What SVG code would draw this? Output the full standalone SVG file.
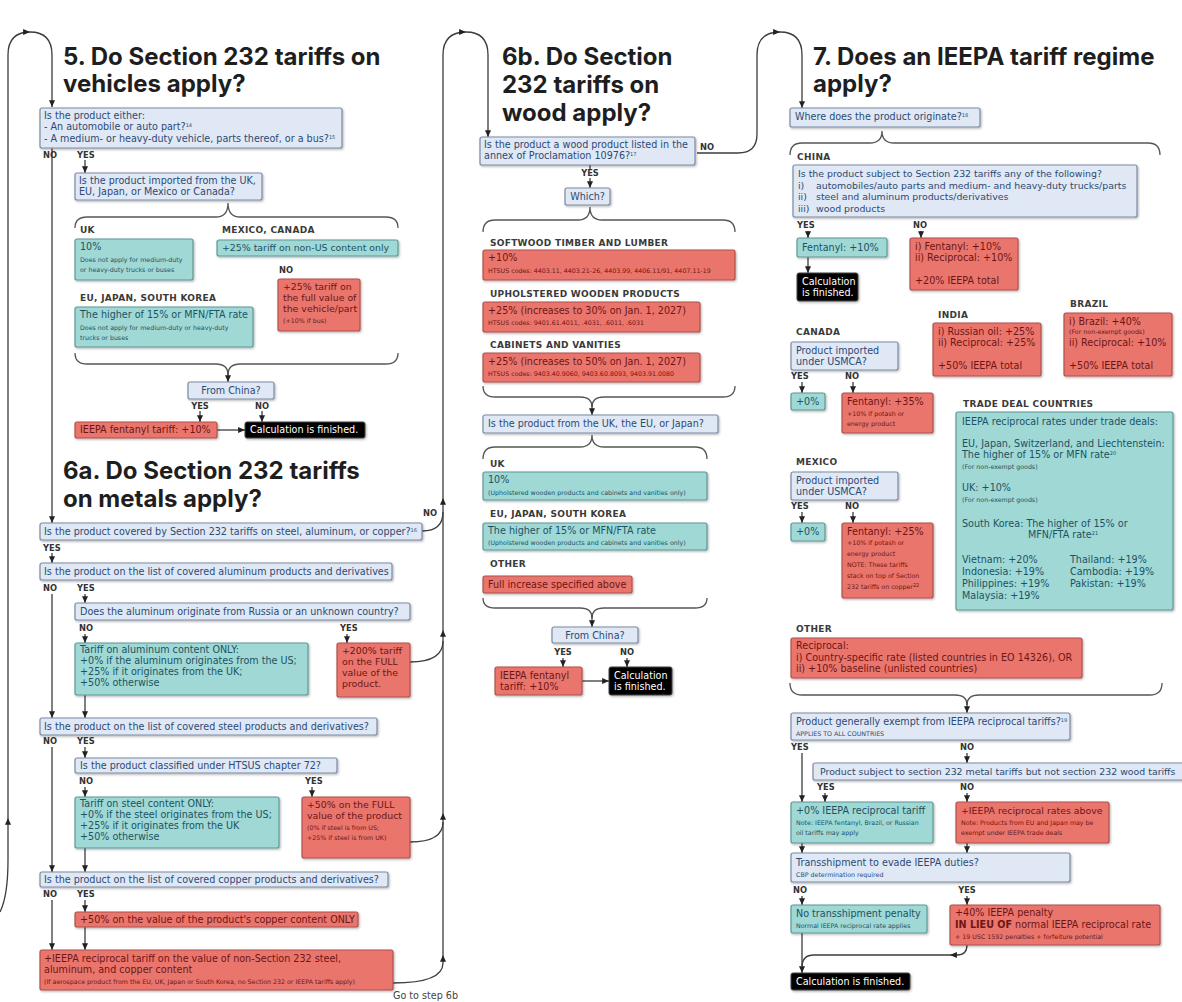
<svg xmlns="http://www.w3.org/2000/svg" width="1182" height="1002" viewBox="0 0 1182 1002">
<defs>
<style>
text{font-family:"DejaVu Sans",Verdana,sans-serif;font-size:9.6px}
.f94{font-size:9.4px}
.ti{font-family:Inter,"Liberation Sans",sans-serif;font-weight:700;font-size:24px;fill:#1e1e1e}
.bq{fill:#dfe8f4;stroke:#7b8ba3;stroke-width:1.2;filter:url(#sh)}
.bg{fill:#a0d8d6;stroke:#5d9896;stroke-width:1.2;filter:url(#sh)}
.br{fill:#e9756c;stroke:#b0514a;stroke-width:1.2;filter:url(#sh)}
.bk{fill:#050505;stroke:#444;stroke-width:1;filter:url(#sh)}
.tq{fill:#2d4a74}
.tg{fill:#1b5362}
.tr{fill:#6d1515}
.tk{fill:#ffffff}
.s{font-size:6.3px}
.sup{font-size:5px}
.yn{font-weight:bold;font-size:8.3px;fill:#333}
.cat{font-weight:bold;font-size:9px;letter-spacing:0.3px;fill:#3a3a3a}
.c{fill:none;stroke:#3c3c3c;stroke-width:1.3}
.a{marker-end:url(#ah)}
.brc{fill:none;stroke:#555;stroke-width:1.3}
.mid{text-anchor:middle}
</style>
<marker id="ah" viewBox="0 0 8 7" refX="8" refY="3.5" markerWidth="7" markerHeight="6" markerUnits="userSpaceOnUse" orient="auto"><path d="M0 0L8 3.5L0 7z" fill="#222"/></marker>
<filter id="sh" x="-10%" y="-20%" width="125%" height="160%"><feDropShadow dx="1" dy="1.2" stdDeviation="1" flood-color="#000" flood-opacity="0.3"/></filter>
</defs>
<rect x="0" y="0" width="1182" height="1002" fill="#ffffff"/>

<g id="titles">
<text class="ti" x="63" y="65">5. Do Section 232 tariffs on</text>
<text class="ti" x="63" y="92">vehicles apply?</text>
<text class="ti" x="63" y="479">6a. Do Section 232 tariffs</text>
<text class="ti" x="63" y="507">on metals apply?</text>
<text class="ti" x="502" y="65">6b. Do Section</text>
<text class="ti" x="502" y="93">232 tariffs on</text>
<text class="ti" x="502" y="121">wood apply?</text>
<text class="ti" x="813" y="65">7. Does an IEEPA tariff regime</text>
<text class="ti" x="813" y="92">apply?</text>
</g>

<g id="connectors">
<path class="c a" d="M0 912C6 900 8 885 8 860L8 818"/>
<path class="c a" d="M8 818L8 55Q8 32 30 32"/>
<path class="c a" d="M30 32Q52 32 52 55L52 107"/>
<path class="c a" d="M52 148L52 523"/>
<path class="c a" d="M85 160L85 173"/>
<path class="brc" d="M75 228Q75 217 87 217L216 217Q228 217 228 203Q228 217 240 217L386 217Q398 217 398 228"/>
<path class="brc" d="M75 353Q75 364 87 364L216 364Q228 364 228 375Q228 364 240 364L386 364Q398 364 398 353"/>
<path class="c a" d="M228 372L228 382"/>
<path class="c a" d="M200 411L200 422"/>
<path class="c a" d="M262 411L262 422"/>
<path class="c a" d="M217 430L245 430"/>
<path class="c a" d="M52 553L52 563"/>
<path class="c" d="M422 531Q443 531 443 512"/>
<path class="c a" d="M52 594L52 718"/>
<path class="c a" d="M85 594L85 603"/>
<path class="c a" d="M85 634L85 643"/>
<path class="c a" d="M347 634L347 643"/>
<path class="c" d="M410 662Q443 662 443 641"/>
<path class="c a" d="M85 695L85 718"/>
<path class="c a" d="M52 747L52 872"/>
<path class="c a" d="M85 747L85 758"/>
<path class="c a" d="M85 787L85 797"/>
<path class="c a" d="M312 787L312 797"/>
<path class="c" d="M410 842Q443 842 443 822"/>
<path class="c a" d="M85 848L85 872"/>
<path class="c a" d="M52 900L52 950"/>
<path class="c a" d="M85 900L85 912"/>
<path class="c a" d="M85 927L85 950"/>
<path class="c a" d="M393 983Q443 983 443 963L443 955"/>
<path class="c a" d="M443 955L443 813"/>
<path class="c a" d="M443 813L443 630"/>
<path class="c a" d="M443 630L443 498"/>
<path class="c a" d="M443 498L443 55Q443 32 466 32"/>
<path class="c a" d="M466 32Q488 32 488 55L488 137"/>
<path class="c" d="M590 165L590 169"/>
<path class="c a" d="M590 178L590 188"/>
<path class="brc" d="M483 232Q483 220 495 220L578 220Q590 220 590 207Q590 220 602 220L723 220Q735 220 735 232"/>
<path class="brc" d="M483 386Q483 397 495 397L580 397Q592 397 592 407Q592 397 604 397L723 397Q735 397 735 386"/>
<path class="c a" d="M592 404L592 415"/>
<path class="brc" d="M483 459Q483 447 495 447L580 447Q592 447 592 435Q592 447 604 447L695 447Q707 447 707 459"/>
<path class="brc" d="M483 598Q483 608 495 608L580 608Q592 608 592 618Q592 608 604 608L695 608Q707 608 707 598"/>
<path class="c a" d="M592 615L592 627"/>
<path class="c a" d="M563 658L563 667"/>
<path class="c a" d="M627 658L627 667"/>
<path class="c a" d="M582 681L609 681"/>
<path class="c a" d="M697 153L738 153Q757 153 757 134L757 55Q757 32 780 32"/>
<path class="c a" d="M780 32Q802 32 802 55L802 108"/>
<path class="brc" d="M790 155Q790 143 802 143L870 143Q882 143 882 131Q882 143 894 143L1148 143Q1160 143 1160 155"/>
<path class="c a" d="M808 231L808 238"/>
<path class="c a" d="M921 231L921 238"/>
<path class="c a" d="M808 257L808 273"/>
<path class="c a" d="M802 382L802 393"/>
<path class="c a" d="M853 382L853 393"/>
<path class="c a" d="M802 512L802 523"/>
<path class="c a" d="M853 512L853 523"/>
<path class="brc" d="M790 683Q790 695 802 695L955 695Q967 695 967 705Q967 695 979 695L1150 695Q1162 695 1162 683"/>
<path class="c a" d="M967 702L967 713"/>
<path class="c a" d="M802 753L802 802"/>
<path class="c a" d="M967 753L967 763"/>
<path class="c a" d="M825 793L825 802"/>
<path class="c a" d="M967 793L967 802"/>
<path class="c a" d="M802 843L802 853"/>
<path class="c a" d="M967 843L967 853"/>
<path class="c a" d="M802 896L802 905"/>
<path class="c a" d="M967 896L967 905"/>
<path class="c a" d="M802 933L802 973"/>
<path class="c a" d="M967 945Q967 955 957 955L950 955"/>
<path class="c" d="M950 955L814 955Q802 955 802 967"/>
</g>

<g id="labels">
<text class="yn" x="43" y="158">NO</text>
<text class="yn" x="77" y="158">YES</text>
<text class="cat" x="80" y="233">UK</text>
<text class="cat" x="222" y="233">MEXICO, CANADA</text>
<text class="yn" x="279" y="273">NO</text>
<text class="cat" x="80" y="301">EU, JAPAN, SOUTH KOREA</text>
<text class="yn mid" x="200" y="409">YES</text>
<text class="yn mid" x="262" y="409">NO</text>
<text class="yn" x="423" y="516">NO</text>
<text class="yn" x="43" y="551">YES</text>
<text class="yn" x="43" y="591">NO</text>
<text class="yn" x="77" y="591">YES</text>
<text class="yn" x="79" y="631">NO</text>
<text class="yn" x="340" y="631">YES</text>
<text class="yn" x="43" y="744">NO</text>
<text class="yn" x="77" y="744">YES</text>
<text class="yn" x="79" y="784">NO</text>
<text class="yn" x="305" y="784">YES</text>
<text class="yn" x="43" y="897">NO</text>
<text class="yn" x="77" y="897">YES</text>
<text x="393" y="999" font-size="5px" fill="#444">Go to step 6b</text>
<text class="yn" x="700" y="150">NO</text>
<text class="yn mid" x="590" y="176">YES</text>
<text class="cat" x="490" y="246">SOFTWOOD TIMBER AND LUMBER</text>
<text class="cat" x="490" y="297">UPHOLSTERED WOODEN PRODUCTS</text>
<text class="cat" x="490" y="348">CABINETS AND VANITIES</text>
<text class="cat" x="490" y="467">UK</text>
<text class="cat" x="490" y="517">EU, JAPAN, SOUTH KOREA</text>
<text class="cat" x="490" y="567">OTHER</text>
<text class="yn mid" x="563" y="655">YES</text>
<text class="yn mid" x="627" y="655">NO</text>
<text class="cat" x="797" y="160">CHINA</text>
<text class="yn" x="797" y="228">YES</text>
<text class="yn" x="913" y="228">NO</text>
<text class="cat" x="938" y="318">INDIA</text>
<text class="cat" x="1070" y="307">BRAZIL</text>
<text class="cat" x="796" y="335">CANADA</text>
<text class="yn" x="791" y="379">YES</text>
<text class="yn" x="845" y="379">NO</text>
<text class="cat" x="963" y="407">TRADE DEAL COUNTRIES</text>
<text class="cat" x="796" y="465">MEXICO</text>
<text class="yn" x="791" y="509">YES</text>
<text class="yn" x="845" y="509">NO</text>
<text class="cat" x="796" y="632">OTHER</text>
<text class="yn" x="791" y="750">YES</text>
<text class="yn mid" x="967" y="750">NO</text>
<text class="yn" x="817" y="790">YES</text>
<text class="yn mid" x="967" y="790">NO</text>
<text class="yn" x="793" y="893">NO</text>
<text class="yn mid" x="967" y="893">YES</text>
</g>

<g id="n5-q1"><rect class="bq" x="40" y="108" width="302" height="40" rx="2"/>
<text class="tq" x="44" y="119">Is the product either:</text>
<text class="tq" x="44" y="130">- An automobile or auto part?<tspan class="sup" dy="-3.5">14</tspan></text>
<text class="tq" x="44" y="142">- A medium- or heavy-duty vehicle, parts thereof, or a bus?<tspan class="sup" dy="-3.5">15</tspan></text></g>
<g id="n5-q2"><rect class="bq" x="75" y="173" width="187" height="27" rx="2"/>
<text class="tq" x="79" y="184">Is the product imported from the UK,</text>
<text class="tq" x="79" y="195">EU, Japan, or Mexico or Canada?</text></g>
<g id="n5-uk"><rect class="bg" x="75" y="239" width="118" height="41" rx="2"/>
<text class="tg" x="80" y="250">10%</text>
<text class="tg s" x="80" y="262">Does not apply for medium-duty</text>
<text class="tg s" x="80" y="272">or heavy-duty trucks or buses</text></g>
<g id="n5-mx"><rect class="bg" x="217" y="240" width="181" height="16" rx="2"/>
<text class="tg f94" x="222" y="251">+25% tariff on non-US content only</text></g>
<g id="n5-no"><rect class="br" x="278" y="279" width="82" height="52" rx="2"/>
<text class="tr f94" x="283" y="290">+25% tariff on</text>
<text class="tr f94" x="283" y="301">the full value of</text>
<text class="tr f94" x="283" y="312">the vehicle/part</text>
<text class="tr s" x="283" y="323">(+10% if bus)</text></g>
<g id="n5-eu"><rect class="bg" x="75" y="307" width="178" height="40" rx="2"/>
<text class="tg" x="80" y="318">The higher of 15% or MFN/FTA rate</text>
<text class="tg s" x="80" y="330">Does not apply for medium-duty or heavy-duty</text>
<text class="tg s" x="80" y="340">trucks or buses</text></g>
<g id="n5-china"><rect class="bq" x="188" y="382" width="86" height="17" rx="2"/>
<text class="tq mid" x="231" y="394">From China?</text></g>
<g id="n5-fent"><rect class="br" x="75" y="422" width="142" height="16" rx="2"/>
<text class="tr" x="80" y="433">IEEPA fentanyl tariff: +10%</text></g>
<g id="n5-done"><rect class="bk" x="245" y="422" width="120" height="16" rx="2"/>
<text class="tk" x="250" y="433">Calculation is finished.</text></g>

<g id="n6a-cover"><rect class="bq" x="40" y="523" width="382" height="17" rx="2"/>
<text class="tq" x="44" y="535">Is the product covered by Section 232 tariffs on steel, aluminum, or copper?<tspan class="sup" dy="-3.5">16</tspan></text></g>
<g id="n6a-al"><rect class="bq" x="40" y="563" width="352" height="17" rx="2"/>
<text class="tq" x="44" y="575">Is the product on the list of covered aluminum products and derivatives</text></g>
<g id="n6a-ru"><rect class="bq" x="75" y="603" width="335" height="17" rx="2"/>
<text class="tq" x="80" y="615">Does the aluminum originate from Russia or an unknown country?</text></g>
<g id="n6a-alc"><rect class="bg" x="75" y="643" width="233" height="52" rx="2"/>
<text class="tg" x="80" y="653">Tariff on aluminum content ONLY:</text>
<text class="tg" x="80" y="664">+0% if the aluminum originates from the US;</text>
<text class="tg" x="80" y="675">+25% if it originates from the UK;</text>
<text class="tg" x="80" y="686">+50% otherwise</text></g>
<g id="n6a-al200"><rect class="br" x="337" y="643" width="73" height="54" rx="2"/>
<text class="tr f94" x="342" y="654">+200% tariff</text>
<text class="tr f94" x="342" y="665">on the FULL</text>
<text class="tr f94" x="342" y="676">value of the</text>
<text class="tr f94" x="342" y="687">product.</text></g>
<g id="n6a-st"><rect class="bq" x="40" y="718" width="337" height="17" rx="2"/>
<text class="tq" x="44" y="730">Is the product on the list of covered steel products and derivatives?</text></g>
<g id="n6a-72"><rect class="bq" x="75" y="758" width="262" height="15" rx="2"/>
<text class="tq" x="80" y="769">Is the product classified under HTSUS chapter 72?</text></g>
<g id="n6a-stc"><rect class="bg" x="75" y="797" width="204" height="51" rx="2"/>
<text class="tg" x="80" y="807">Tariff on steel content ONLY:</text>
<text class="tg" x="80" y="818">+0% if the steel originates from the US;</text>
<text class="tg" x="80" y="829">+25% if it originates from the UK</text>
<text class="tg" x="80" y="840">+50% otherwise</text></g>
<g id="n6a-st50"><rect class="br" x="302" y="797" width="108" height="61" rx="2"/>
<text class="tr f94" x="307" y="808">+50% on the FULL</text>
<text class="tr f94" x="307" y="819">value of the product</text>
<text class="tr s" x="307" y="830">(0% if steel is from US;</text>
<text class="tr s" x="307" y="840">+25% if steel is from UK)</text></g>
<g id="n6a-cu"><rect class="bq" x="40" y="872" width="348" height="15" rx="2"/>
<text class="tq" x="44" y="883">Is the product on the list of covered copper products and derivatives?</text></g>
<g id="n6a-cu50"><rect class="br" x="75" y="912" width="283" height="15" rx="2"/>
<text class="tr" x="80" y="923">+50% on the value of the product's copper content ONLY</text></g>
<g id="n6a-final"><rect class="br" x="40" y="950" width="353" height="40" rx="2"/>
<text class="tr" x="44" y="962">+IEEPA reciprocal tariff on the value of non-Section 232 steel,</text>
<text class="tr" x="44" y="973">aluminum, and copper content</text>
<text class="tr s" x="44" y="984">(If aerospace product from the EU, UK, Japan or South Korea, no Section 232 or IEEPA tariffs apply)</text></g>

<g id="n6b-q"><rect class="bq" x="480" y="137" width="215" height="28" rx="2"/>
<text class="tq" x="484" y="148">Is the product a wood product listed in the</text>
<text class="tq" x="484" y="159">annex of Proclamation 10976?<tspan class="sup" dy="-3.5">17</tspan></text></g>
<g id="n6b-which"><rect class="bq" x="565" y="188" width="45" height="17" rx="2"/>
<text class="tq mid" x="587.5" y="200">Which?</text></g>
<g id="n6b-soft"><rect class="br" x="483" y="250" width="252" height="30" rx="2"/>
<text class="tr" x="488" y="261">+10%</text>
<text class="tr s" x="488" y="273">HTSUS codes: 4403.11, 4403.21-26, 4403.99, 4406.11/91, 4407.11-19</text></g>
<g id="n6b-uph"><rect class="br" x="483" y="302" width="217" height="30" rx="2"/>
<text class="tr" x="488" y="314">+25% (increases to 30% on Jan. 1, 2027)</text>
<text class="tr s" x="488" y="325">HTSUS codes: 9401.61.4011, .4031, .6011, .6031</text></g>
<g id="n6b-cab"><rect class="br" x="483" y="353" width="217" height="29" rx="2"/>
<text class="tr" x="488" y="365">+25% (increases to 50% on Jan. 1, 2027)</text>
<text class="tr s" x="488" y="376">HTSUS codes: 9403.40.9060, 9403.60.8093, 9403.91.0080</text></g>
<g id="n6b-ukq"><rect class="bq" x="483" y="415" width="235" height="18" rx="2"/>
<text class="tq" x="488" y="427">Is the product from the UK, the EU, or Japan?</text></g>
<g id="n6b-uk"><rect class="bg" x="483" y="472" width="224" height="28" rx="2"/>
<text class="tg" x="488" y="483">10%</text>
<text class="tg s" x="488" y="495">(Upholstered wooden products and cabinets and vanities only)</text></g>
<g id="n6b-eu"><rect class="bg" x="483" y="523" width="224" height="27" rx="2"/>
<text class="tg" x="488" y="534">The higher of 15% or MFN/FTA rate</text>
<text class="tg s" x="488" y="545">(Upholstered wooden products and cabinets and vanities only)</text></g>
<g id="n6b-oth"><rect class="br" x="483" y="576" width="149" height="17" rx="2"/>
<text class="tr" x="488" y="588">Full increase specified above</text></g>
<g id="n6b-china"><rect class="bq" x="552" y="627" width="86" height="16" rx="2"/>
<text class="tq mid" x="595" y="638.5">From China?</text></g>
<g id="n6b-fent"><rect class="br" x="495" y="667" width="87" height="28" rx="2"/>
<text class="tr" x="500" y="679">IEEPA fentanyl</text>
<text class="tr" x="500" y="690">tariff: +10%</text></g>
<g id="n6b-done"><rect class="bk" x="609" y="667" width="63" height="28" rx="2"/>
<text class="tk" x="614" y="679">Calculation</text>
<text class="tk" x="614" y="690">is finished.</text></g>

<g id="n7-orig"><rect class="bq" x="790" y="108" width="190" height="19" rx="2"/>
<text class="tq" x="795" y="120">Where does the product originate?<tspan class="sup" dy="-3.5">18</tspan></text></g>
<g id="n7-chq"><rect class="bq" x="793" y="165" width="344" height="52" rx="2"/>
<text class="tq f94" x="798" y="177">Is the product subject to Section 232 tariffs any of the following?</text>
<text class="tq f94" x="798" y="188.5">i)<tspan x="816">automobiles/auto parts and medium- and heavy-duty trucks/parts</tspan></text>
<text class="tq f94" x="798" y="200">ii)<tspan x="816">steel and aluminum products/derivatives</tspan></text>
<text class="tq f94" x="798" y="211.5">iii)<tspan x="816">wood products</tspan></text></g>
<g id="n7-chy"><rect class="bg" x="797" y="238" width="90" height="19" rx="2"/>
<text class="tg" x="802" y="251">Fentanyl: +10%</text></g>
<g id="n7-chdone"><rect class="bk" x="797" y="273" width="61" height="28" rx="2"/>
<text class="tk" x="802" y="285">Calculation</text>
<text class="tk" x="802" y="296">is finished.</text></g>
<g id="n7-chn"><rect class="br" x="910" y="238" width="108" height="52" rx="2"/>
<text class="tr" x="915" y="250">i) Fentanyl: +10%</text>
<text class="tr" x="915" y="261">ii) Reciprocal: +10%</text>
<text class="tr" x="915" y="284">+20% IEEPA total</text></g>
<g id="n7-in"><rect class="br" x="933" y="323" width="108" height="53" rx="2"/>
<text class="tr" x="938" y="335">i) Russian oil: +25%</text>
<text class="tr" x="938" y="346">ii) Reciprocal: +25%</text>
<text class="tr" x="938" y="369">+50% IEEPA total</text></g>
<g id="n7-br"><rect class="br" x="1064" y="313" width="108" height="63" rx="2"/>
<text class="tr" x="1069" y="325">i) Brazil: +40%</text>
<text class="tr s" x="1069" y="334">(For non-exempt goods)</text>
<text class="tr" x="1069" y="346">ii) Reciprocal: +10%</text>
<text class="tr" x="1069" y="369">+50% IEEPA total</text></g>
<g id="n7-ca"><rect class="bq" x="791" y="342" width="107" height="28" rx="2"/>
<text class="tq" x="796" y="354">Product imported</text>
<text class="tq" x="796" y="365">under USMCA?</text></g>
<g id="n7-ca0"><rect class="bg" x="791" y="393" width="34" height="17" rx="2"/>
<text class="tg" x="796" y="405">+0%</text></g>
<g id="n7-ca35"><rect class="br" x="842" y="393" width="91" height="40" rx="2"/>
<text class="tr" x="847" y="405">Fentanyl: +35%</text>
<text class="tr s" x="847" y="416">+10% if potash or</text>
<text class="tr s" x="847" y="426">energy product</text></g>
<g id="n7-td"><rect class="bg" x="956" y="412" width="217" height="198" rx="2"/>
<text class="tg" x="962" y="425">IEEPA reciprocal rates under trade deals:</text>
<text class="tg" x="962" y="447">EU, Japan, Switzerland, and Liechtenstein:</text>
<text class="tg" x="962" y="458">The higher of 15% or MFN rate<tspan class="sup" dy="-3.5">20</tspan></text>
<text class="tg s" x="962" y="469">(For non-exempt goods)</text>
<text class="tg" x="962" y="491">UK: +10%</text>
<text class="tg s" x="962" y="502">(For non-exempt goods)</text>
<text class="tg" x="962" y="527">South Korea: The higher of 15% or</text>
<text class="tg" x="1028" y="538">MFN/FTA rate<tspan class="sup" dy="-3.5">21</tspan></text>
<text class="tg" x="962" y="563">Vietnam: +20%</text>
<text class="tg" x="1070" y="563">Thailand: +19%</text>
<text class="tg" x="962" y="575">Indonesia: +19%</text>
<text class="tg" x="1070" y="575">Cambodia: +19%</text>
<text class="tg" x="962" y="587">Philippines: +19%</text>
<text class="tg" x="1070" y="587">Pakistan: +19%</text>
<text class="tg" x="962" y="599">Malaysia: +19%</text></g>
<g id="n7-mx"><rect class="bq" x="791" y="472" width="107" height="28" rx="2"/>
<text class="tq" x="796" y="484">Product imported</text>
<text class="tq" x="796" y="495">under USMCA?</text></g>
<g id="n7-mx0"><rect class="bg" x="791" y="523" width="34" height="18" rx="2"/>
<text class="tg" x="796" y="535">+0%</text></g>
<g id="n7-mx25"><rect class="br" x="842" y="523" width="91" height="75" rx="2"/>
<text class="tr" x="847" y="535">Fentanyl: +25%</text>
<text class="tr s" x="847" y="545">+10% if potash or</text>
<text class="tr s" x="847" y="556">energy product</text>
<text class="tr s" x="847" y="567">NOTE: These tariffs</text>
<text class="tr s" x="847" y="578">stack on top of Section</text>
<text class="tr s" x="847" y="589">232 tariffs on copper<tspan class="sup" dy="-2.5">22</tspan></text></g>
<g id="n7-oth"><rect class="br" x="791" y="638" width="291" height="40" rx="2"/>
<text class="tr" x="796" y="649">Reciprocal:</text>
<text class="tr" x="796" y="661">i) Country-specific rate (listed countries in EO 14326), OR</text>
<text class="tr" x="796" y="672">ii) +10% baseline (unlisted countries)</text></g>
<g id="n7-ex"><rect class="bq" x="791" y="713" width="279" height="27" rx="2"/>
<text class="tq" x="796" y="725">Product generally exempt from IEEPA reciprocal tariffs?<tspan class="sup" dy="-3.5">19</tspan></text>
<text class="tq s" x="796" y="736">APPLIES TO ALL COUNTRIES</text></g>
<g id="n7-metal"><rect class="bq" x="813" y="763" width="380" height="17" rx="2"/>
<text class="tq f94" x="820" y="775">Product subject to section 232 metal tariffs but not section 232 wood tariffs</text></g>
<g id="n7-zero"><rect class="bg" x="791" y="802" width="142" height="41" rx="2"/>
<text class="tg" x="796" y="814">+0% IEEPA reciprocal tariff</text>
<text class="tg s" x="796" y="825">Note: IEEPA fentanyl, Brazil, or Russian</text>
<text class="tg s" x="796" y="835">oil tariffs may apply</text></g>
<g id="n7-rr"><rect class="br" x="956" y="802" width="153" height="41" rx="2"/>
<text class="tr f94" x="961" y="814">+IEEPA reciprocal rates above</text>
<text class="tr s" x="961" y="825">Note: Products from EU and Japan may be</text>
<text class="tr s" x="961" y="835">exempt under IEEPA trade deals</text></g>
<g id="n7-ts"><rect class="bq" x="791" y="853" width="279" height="29" rx="2"/>
<text class="tq" x="796" y="866">Transshipment to evade IEEPA duties?</text>
<text class="tq s" x="796" y="877">CBP determination required</text></g>
<g id="n7-nots"><rect class="bg" x="791" y="905" width="136" height="28" rx="2"/>
<text class="tg" x="796" y="917">No transshipment penalty</text>
<text class="tg s" x="796" y="928">Normal IEEPA reciprocal rate applies</text></g>
<g id="n7-pen"><rect class="br" x="950" y="905" width="210" height="40" rx="2"/>
<text class="tr" x="955" y="916">+40% IEEPA penalty</text>
<text class="tr" x="955" y="928"><tspan font-weight="bold">IN LIEU OF</tspan> normal IEEPA reciprocal rate</text>
<text class="tr s" x="955" y="939">+ 19 USC 1592 penalties + forfeiture potential</text></g>
<g id="n7-done"><rect class="bk" x="791" y="973" width="119" height="17" rx="2"/>
<text class="tk" x="796" y="985">Calculation is finished.</text></g>
</svg>
